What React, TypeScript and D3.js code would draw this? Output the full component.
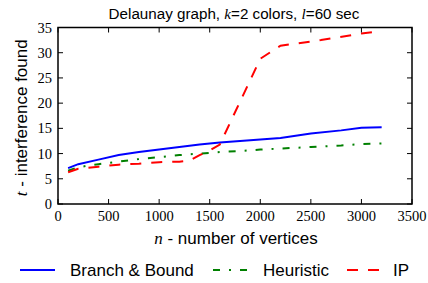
import React from "react";
import * as d3 from "d3";

const nBB = [100, 200, 400, 600, 800, 1000, 1200, 1400, 1600, 1800, 2000, 2200, 2500, 2800, 3000, 3200];
const valBB = [7.1, 7.9, 8.8, 9.7, 10.3, 10.8, 11.3, 11.8, 12.2, 12.5, 12.8, 13.1, 14.0, 14.6, 15.1, 15.2];

const nH = [100, 200, 400, 600, 800, 1000, 1200, 1400, 1600, 1800, 2000, 2200, 2500, 2800, 3000, 3200];
const valH = [6.6, 7.3, 7.9, 8.4, 8.9, 9.3, 9.7, 10.0, 10.3, 10.5, 10.8, 11.0, 11.3, 11.6, 11.9, 12.0];

const nIP = [100, 200, 400, 600, 800, 1000, 1200, 1300, 1400, 1500, 1600, 1800, 2000, 2200, 2600, 3000, 3200];
const valIP = [6.3, 7.0, 7.4, 7.8, 8.0, 8.3, 8.4, 8.6, 9.7, 10.6, 11.8, 20.3, 28.8, 31.4, 32.5, 33.8, 34.3];

const xTicks = [0, 500, 1000, 1500, 2000, 2500, 3000, 3500];
const yTicks = [0, 5, 10, 15, 20, 25, 30, 35];

const legendLabels = ["Branch & Bound", "Heuristic", "IP"];

export default function App() {
  const W = 428, H = 283;
  const L = 58, R = 412, T = 27.5, B = 204;
  const x = d3.scaleLinear().domain([0, 3500]).range([L, R]);
  const y = d3.scaleLinear().domain([0, 35]).range([B, T]);
  const line = (ns: number[], vs: number[]) =>
    d3.line<number>().x((_, i) => x(ns[i])).y((v) => y(v))(vs) || "";
  const serif = "'Liberation Serif', serif";
  const sans = "'Liberation Sans', Arial, sans-serif";
  const tick = 5;
  const series = [
    { d: line(nBB, valBB), color: "#0000ff", dash: undefined as string | undefined },
    { d: line(nH, valH), color: "#008000", dash: "7,9,2,9" },
    { d: line(nIP, valIP), color: "#ff0000", dash: "11,10" },
  ];
  const legendX = [20, 213, 347];
  const legendTextX = [70, 263, 393];
  return (
    <svg width={W} height={H} style={{ position: "absolute", left: 0, top: 0, background: "#fff" }}>
      <rect x={0} y={0} width={W} height={H} fill="#fff" />
      <text x={234} y={19} textAnchor="middle" fontFamily={sans} fontSize={15.2}>
        Delaunay graph, <tspan fontFamily={serif} fontStyle="italic">k</tspan>=2 colors,{" "}
        <tspan fontFamily={serif} fontStyle="italic">l</tspan>=60 sec
      </text>
      {series.map((s, i) => (
        <path key={i} d={s.d} fill="none" stroke={s.color} strokeWidth={2} strokeDasharray={s.dash} />
      ))}
      {xTicks.map((t) => (
        <g key={"x" + t}>
          <line x1={x(t)} x2={x(t)} y1={B} y2={B - tick} stroke="#000" strokeWidth={1} />
          <line x1={x(t)} x2={x(t)} y1={T} y2={T + tick} stroke="#000" strokeWidth={1} />
          <text x={x(t)} y={B + 17} textAnchor="middle" fontFamily={serif} fontSize={14.5}>
            {t}
          </text>
        </g>
      ))}
      {yTicks.map((t) => (
        <g key={"y" + t}>
          <line x1={L} x2={L + tick} y1={y(t)} y2={y(t)} stroke="#000" strokeWidth={1} />
          <line x1={R} x2={R - tick} y1={y(t)} y2={y(t)} stroke="#000" strokeWidth={1} />
          <text x={L - 6} y={y(t) + 5} textAnchor="end" fontFamily={serif} fontSize={14.5}>
            {t}
          </text>
        </g>
      ))}
      <rect x={L} y={T} width={R - L} height={B - T} fill="none" stroke="#000" strokeWidth={1.5} />
      <text x={236} y={244} textAnchor="middle" fontFamily={sans} fontSize={17}>
        <tspan fontFamily={serif} fontStyle="italic">n</tspan> - number of vertices
      </text>
      <text
        transform={`translate(27,${(T + B) / 2 + 2}) rotate(-90)`}
        textAnchor="middle"
        fontFamily={sans}
        fontSize={17}
      >
        <tspan fontFamily={serif} fontStyle="italic">t</tspan> - interference found
      </text>
      {series.map((s, i) => (
        <g key={"l" + i}>
          <line x1={legendX[i]} x2={legendX[i] + 35} y1={270} y2={270} stroke={s.color} strokeWidth={2} strokeDasharray={s.dash} />
          <text x={legendTextX[i]} y={276} fontFamily={sans} fontSize={17}>
            {legendLabels[i]}
          </text>
        </g>
      ))}
    </svg>
  );
}
